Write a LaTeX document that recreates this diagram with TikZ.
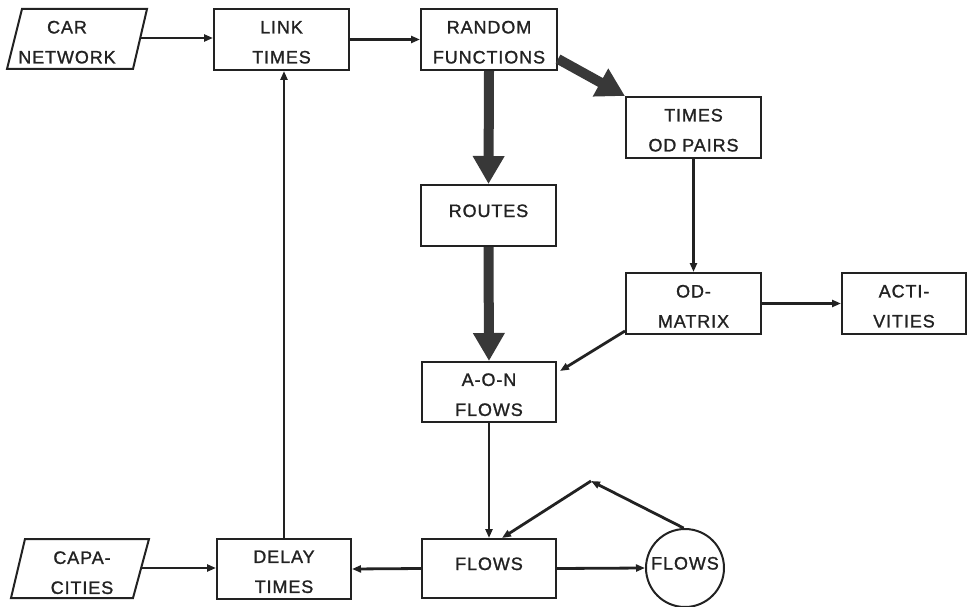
\documentclass[tikz,border=0pt]{standalone}
\usepackage{fontspec}
\setmainfont[LetterSpace=5,FakeBold=1.2]{Liberation Sans}
\usetikzlibrary{arrows.meta,calc}
\definecolor{ink}{HTML}{222222}
\definecolor{heavy}{HTML}{383838}
\newcommand\firstln{\rule{0pt}{18pt}}
\begin{document}
\begin{tikzpicture}[x=1pt,y=-1pt,
  lbl/.style={font=\fontsize{18}{30}\selectfont, text=ink, align=center, inner sep=0pt},
  one/.style={text height=18pt, text depth=15pt},
  box/.style={lbl, draw=ink, line width=2pt, rectangle, minimum width=135pt, minimum height=61pt},
  para/.style={draw=ink, line width=2pt, line join=miter},
  conn/.style={draw=ink, line width=2.8pt, -{Triangle[length=9pt,width=7pt]}},
  fat/.style={draw=heavy, line width=10pt, -{Triangle[length=28pt,width=30pt]}}
]
\useasboundingbox (0,0) rectangle (969,607);

% parallelograms
\draw[para] (22,9) -- (147,9) -- (133,69) -- (7,69) -- cycle;
\coordinate (carE) at (140,38);
\node[lbl] (cartext) at (67,39.5) {\firstln CAR\\NETWORK};
\draw[para] (25,539) -- (149,539) -- (133,598) -- (11,598) -- cycle;
\coordinate (capE) at (141,568);
\node[lbl] (captext) at (82,570) {\firstln CAPA-\\CITIES};

% nodes
\node[box] (link) at (281.5,39.5) {\firstln LINK\\TIMES};
\node[box, minimum width=136pt] (rand) at (489,39.5) {\firstln RANDOM\\FUNCTIONS};
\node[box] (times) at (693.5,127.5) {\firstln TIMES\\OD PAIRS};
\node[box, one] (routes) at (488.5,215.5) {ROUTES};
\node[box] (odm) at (693.5,303.5) {\firstln OD-\\MATRIX};
\node[box, minimum width=124pt] (acti) at (904,303.5) {\firstln ACTI-\\VITIES};
\node[box, minimum width=134pt, minimum height=60pt] (aon) at (489,392) {\firstln A-O-N\\FLOWS};
\node[box, one, minimum width=134pt, minimum height=59pt] (flows) at (489,568.5) {FLOWS};
\node[box, minimum width=134pt, minimum height=60pt] (delay) at (284,569) {\firstln DELAY\\TIMES};
\node[lbl, one, draw=ink, line width=2pt, circle, minimum size=78pt] (circ) at (685,568) {FLOWS};
\coordinate (apex) at (591,481);

% connectors
\draw[conn] (carE) -- (carE -| link.west);
\draw[conn] (link.east) -- (rand.west);
\draw[fat] (rand.south) -- (routes.north);
\draw[fat] ($(rand.south east)+(0,-12)$) -- (times.north west);
\draw[conn] (times.south) -- (odm.north);
\draw[conn] (odm.east) -- (acti.west);
\draw[conn] ($(odm.south west)+(0,-4)$) -- ($(aon.north east)+(3,10)$);
\draw[fat] (routes.south) -- (aon.north);
\draw[conn] (aon.south) -- (flows.north);
\draw[conn] (flows.east) -- (circ.west);
\draw[conn] (circ.92) -- (apex);
\draw[conn] (apex) -- ($(flows.north)+(13,0)$);
\draw[conn] (flows.west) -- (delay.east);
\draw[conn] (capE) -- (capE -| delay.west);
\draw[conn] (delay.north) -- (delay.north |- link.south);
\end{tikzpicture}
\end{document}
